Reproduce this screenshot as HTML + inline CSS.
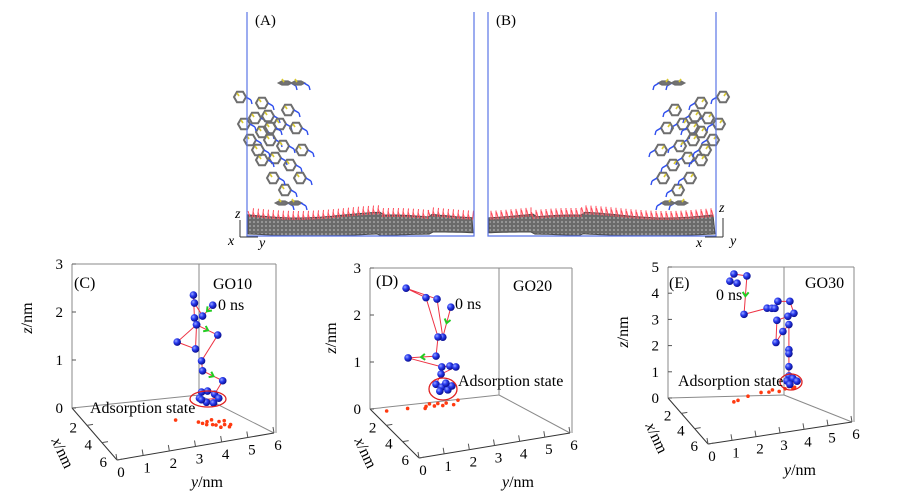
<!DOCTYPE html>
<html><head><meta charset="utf-8"><style>
html,body{margin:0;padding:0;background:#fff;}
svg{display:block;}
text{font-family:"Liberation Serif","DejaVu Serif",serif;}
</style></head><body>
<svg id="fig" width="900" height="497" viewBox="0 0 900 497">
<defs>
<radialGradient id="ball" cx="35%" cy="35%" r="65%">
<stop offset="0" stop-color="#9aa8ff"/><stop offset="0.45" stop-color="#2a3cf0"/><stop offset="1" stop-color="#0a0f90"/>
</radialGradient>
<pattern id="gtex" width="4" height="4" patternUnits="userSpaceOnUse">
<rect width="4" height="4" fill="#6a6a6a"/><circle cx="2" cy="2" r="1.1" fill="#9a9a9a"/>
</pattern>
</defs>
<g id="topgroup"></g>
<g id="panels"></g>
</svg>
<script>
// ---------- Panel data (nm) ----------
const cTrajY=[4.52,4.13,3.82,3.78,3.82,3.90,3.16,3.86,3.90,4.71,4.09,4.13,4.90,4.59,4.32,4.09,4.01,4.28,4.55,4.75,4.09];
const cTrajZ=[2.26,2.07,2.37,2.54,2.06,1.91,1.62,1.41,1.91,1.62,1.14,0.93,0.65,0.40,0.49,0.49,0.37,0.26,0.22,0.30,0.33];
const cFloorX=[3.0,3.6,3.8,3.7,4.0,4.2,3.9,4.3,4.5,4.4,4.1,3.6,4.6,3.9];
const cFloorY=[3.1,3.8,3.9,4.1,4.0,4.3,4.5,4.6,4.4,4.8,4.2,4.3,4.7,4.7];
const dTrajY=[2.24,1.92,1.69,0.46,1.25,1.73,1.65,0.54,1.88,2.20,2.44,1.85,1.65,1.88,2.12,2.28,1.80,2.04];
const dTrajZ=[2.49,1.88,2.71,3.05,2.78,1.90,1.50,1.56,1.25,1.24,1.20,1.10,0.90,0.82,0.74,0.81,0.74,0.89];
const dFloorX=[0.5,0.6,0.9,0.7,0.5,0.8,0.6,0.9,0.7,1.0,0.6];
const dFloorY=[0.5,1.3,1.9,2.0,2.2,2.3,2.5,2.6,2.8,3.0,3.3];
const eTrajY=[2.60,2.30,2.47,3.01,2.89,3.85,4.05,4.18,4.30,4.80,4.97,4.72,4.26,4.22,4.51,4.76,4.76,4.76,4.76,4.76,4.68,4.93,5.10,4.80];
const eTrajZ=[4.31,4.43,4.68,4.53,3.08,3.18,3.15,3.13,3.38,3.31,2.83,2.75,2.66,1.82,2.20,2.43,1.47,1.32,0.82,0.47,0.29,0.35,0.22,0.14];
const eFloorX=[1.6,1.5,1.2,1.0,1.1,0.9,1.2,1.0,0.8,1.1,1.0];
const eFloorY=[2.3,2.5,3.0,3.6,3.9,4.1,4.3,4.6,4.8,4.9,5.0];
const zTicksC=[0,1,2,3], zTicksD=[0,1,2,3], zTicksE=[0,1,2,3,4,5];
const xTicks=[2,4,6], yTicks=[0,1,2,3,4,5,6];

const NS='http://www.w3.org/2000/svg';
function mk(parent,tag,attrs,text){const e=document.createElementNS(NS,tag);for(const k in attrs)e.setAttribute(k,attrs[k]);if(text!==undefined)e.textContent=text;parent.appendChild(e);return e;}
function addTitle(g,x,y,rot,letter){
 const t=mk(g,'text',{x:x,y:y,'font-size':16,'text-anchor':'middle',transform:rot?`rotate(${rot} ${x} ${y})`:''});
 mk(t,'tspan',{'font-style':'italic'},letter);
 mk(t,'tspan',{},'/nm');
 return t;
}

const panels=[
 {id:'c',lab:'(C)',go:'GO10',O:[72,408],F:[117,460],Y6:[274,433],B:[199,395],top:264,zmax:3,zt:zTicksC,
  ty:cTrajY,tz:cTrajZ,fx:cFloorX,fy:cFloorY,px:3,arrows:[0,8,11],
  ell:[208,399,18,8],labPos:[74,288],goPos:[213,289],nsPos:[218,310],adPos:[90,413],
  zt_t:[32,318],xt_t:[58,455],yt_t:[207,487]},
 {id:'d',lab:'(D)',go:'GO20',O:[370,409],F:[419,458],Y6:[570,433],B:[499,395],top:268,zmax:3,zt:zTicksD,
  ty:dTrajY,tz:dTrajZ,fx:dFloorX,fy:dFloorY,px:3,arrows:[0,6],
  ell:[443,389,14,11],labPos:[376,286],goPos:[513,291],nsPos:[455,309],adPos:[458,386],
  zt_t:[336,338],xt_t:[361,455],yt_t:[518,487]},
 {id:'e',lab:'(E)',go:'GO30',O:[668,398],F:[708,444],Y6:[852,422],B:[784,395],top:267,zmax:5,zt:zTicksE,
  ty:eTrajY,tz:eTrajZ,fx:eFloorX,fy:eFloorY,px:1,arrows:[3,16],
  ell:[791,382,11,8],labPos:[669,288],goPos:[805,288],nsPos:[716,300],adPos:[678,386],
  zt_t:[628,332],xt_t:[652,440],yt_t:[800,475]}
];

const root=document.getElementById('panels');
panels.forEach(p=>{
 const g=mk(root,'g',{});
 
 
 const ex=[(p.F[0]-p.O[0])/6,(p.F[1]-p.O[1])/6], ey=[(p.Y6[0]-p.F[0])/6,(p.Y6[1]-p.F[1])/6];
 const zs=(p.O[1]-p.top)/p.zmax;
 const proj=(x,y,z)=>[p.O[0]+x*ex[0]+y*ey[0], p.O[1]+x*ex[1]+y*ey[1]-z*zs];
 const L=(a,b,c)=>mk(g,'line',{x1:a[0],y1:a[1],x2:b[0],y2:b[1],stroke:c||'#8a8a8a','stroke-width':1});
 const rx=p.Y6[0]+2;
 L([p.O[0],p.top],[p.O[0],p.O[1]]);L([p.O[0],p.top],[rx,p.top]);
 L([p.B[0],p.top],[p.B[0],p.B[1]]);L([rx,p.top],[rx,p.Y6[1]]);
 L(p.O,p.B);L(p.B,p.Y6);L(p.O,p.F,'#333');L(p.F,p.Y6,'#333');
 p.zt.forEach(v=>{const y=p.O[1]-v*zs;
  L([p.O[0],y],[p.O[0]+4,y],'#555');
  const t=mk(g,'text',{x:p.O[0]-9,y:y+5,'font-size':15,'text-anchor':'end'},String(v));
  });
 xTicks.forEach(v=>{const a=proj(v,0,0);
  L(a,[a[0]+6,a[1]-1],'#555');
  const t=mk(g,'text',{x:a[0]-10,y:a[1]+7,'font-size':15,'text-anchor':'end'},String(v));
  });
 yTicks.forEach(v=>{const a=proj(6,v,0);
  L(a,[a[0]-1,a[1]-6],'#555');
  const t=mk(g,'text',{x:a[0]+4,y:a[1]+17,'font-size':15,'text-anchor':'middle'},String(v));
  });
 let t=addTitle(g,p.zt_t[0],p.zt_t[1],-90,'z');
 
 t=addTitle(g,p.xt_t[0],p.xt_t[1],65,'x');
 
 t=addTitle(g,p.yt_t[0],p.yt_t[1],0,'y');
 
 p.fx.forEach((x,i)=>{const a=proj(x,p.fy[i],0);
  const c=mk(g,'circle',{cx:a[0],cy:a[1],r:1.8,fill:'#ff3a10'});
  });
 const pts=p.ty.map((y,i)=>proj(p.px,y,p.tz[i]));
 const pl=mk(g,'polyline',{points:pts.map(a=>a.join(',')).join(' '),fill:'none',stroke:'#ee3344','stroke-width':1});
 
 p.arrows.forEach(i=>{const a=pts[i],b=pts[i+1];const mx=(a[0]+b[0])/2,my=(a[1]+b[1])/2;
  const ang=Math.atan2(b[1]-a[1],b[0]-a[0])*180/Math.PI;
  const ar=mk(g,'path',{d:'M-3,-3 L1,0 L-3,3',fill:'none',stroke:'#22cc22','stroke-width':2,transform:`translate(${mx},${my}) rotate(${ang})`});
  });
 pts.forEach(a=>{const c=mk(g,'circle',{cx:a[0],cy:a[1],r:3.8,fill:'url(#ball)'});
  });
 const el=mk(g,'ellipse',{cx:p.ell[0],cy:p.ell[1],rx:p.ell[2],ry:p.ell[3],fill:'none',stroke:'#e02020','stroke-width':1.3});
 
 const T=(pos,s,n)=>{const e=mk(g,'text',{x:pos[0],y:pos[1],'font-size':16},s);};
 T(p.labPos,p.lab,'panel-label');T(p.goPos,p.go,'series-label');T(p.nsPos,'0 ns','start-time-label');T(p.adPos,'Adsorption state','adsorption-state-label');
});

// ---------- top panels (A),(B) ----------
const topG=document.getElementById('topgroup');
const rings=[[285,83,0.3],[298,83,0.3],[240,97,1],[262,103,1],[255,118,1],[268,116,1],[280,124,1],[262,132,1],[250,140,1],[270,140,1],[283,146,1],[296,128,1],[302,150,1],[275,158,1],[290,165,1],[300,178,1],[285,190,1],[273,178,1],[282,203,0.3],[295,203,0.3],[244,124,1],[258,150,1],[288,110,1],[270,128,1],[262,160,1]];
function drawSide(g,mirror){
 const X=x=>mirror?963-x:x;
 rings.forEach(r=>{let d='';for(let k=0;k<6;k++){const a=Math.PI/3*k;d+=(k?'L':'M')+(X(r[0])+6*Math.cos(a)).toFixed(1)+','+(r[1]+6*r[2]*Math.sin(a)).toFixed(1);}
  const h=mk(g,'path',{d:d+'Z',fill:r[2]<1?'#777':'none',stroke:'#6e6e6e','stroke-width':2});
  
  mk(g,'line',{x1:X(r[0]+6),y1:r[1],x2:X(r[0]+11),y2:r[1]+3,stroke:'#3050ee','stroke-width':1.6});
  mk(g,'line',{x1:X(r[0]+11),y1:r[1]+3,x2:X(r[0]+12),y2:r[1]+7,stroke:'#3050ee','stroke-width':1.4});
  mk(g,'line',{x1:X(r[0]-3),y1:r[1]-4,x2:X(r[0]-1),y2:r[1]-1,stroke:'#d8c830','stroke-width':1.6});});
 const x0=mirror?489:248,x1=mirror?715:473;
 const yTop=u=>215+3*Math.sin((u-250)/30)+(u>380&&u<430?3:0);
 const yBot=u=>234+2*Math.sin((u-250)/40)+(u>380&&u<430?2:0);
 let d='M'+x0+','+yBot(mirror?963-x0:x0).toFixed(1);
 for(let x=x0;x<=x1;x+=4){d+=' L'+x+','+yTop(mirror?963-x:x).toFixed(1);}
 for(let x=x1;x>=x0;x-=4){d+=' L'+x+','+yBot(mirror?963-x:x).toFixed(1);}
 d+=' Z';
 const s=mk(g,'path',{d:d,fill:'url(#gtex)',stroke:'#4a4a4a','stroke-width':1});
 
 for(let x=x0+2;x<x1;x+=2.5){const u=(mirror?963-x:x);const yt=yTop(u);
  mk(g,'line',{x1:x,y1:yt+2,x2:x+((Math.round(x*7))%5-2),y2:yt-4-((Math.round(x*13))%5),stroke:'#ff4a5a','stroke-width':1});}
}
const gA=mk(topG,'g',{});
const gB=mk(topG,'g',{});
drawSide(gA,false);drawSide(gB,true);
mk(gA,'path',{d:'M247,12 L247,236 L474,236 L474,12',fill:'none',stroke:'#5a74e6','stroke-width':1.2});
mk(gB,'path',{d:'M488,12 L488,236 L716,236 L716,12',fill:'none',stroke:'#5a74e6','stroke-width':1.2});
let tt=mk(gA,'text',{x:255,y:25,'font-size':15},'(A)');
tt=mk(gB,'text',{x:496,y:25,'font-size':15},'(B)');
mk(gA,'path',{d:'M240,237 L240,220 M240,237 L258,237',stroke:'#333',fill:'none'});
mk(gA,'text',{x:235,y:218,'font-size':14,'font-style':'italic'},'z');
mk(gA,'text',{x:228,y:245,'font-size':14,'font-style':'italic'},'x');
mk(gA,'text',{x:259,y:247,'font-size':14,'font-style':'italic'},'y');
mk(gB,'path',{d:'M723,237 L723,218 M723,237 L705,237',stroke:'#333',fill:'none'});
mk(gB,'text',{x:719,y:212,'font-size':14,'font-style':'italic'},'z');
mk(gB,'text',{x:730,y:245,'font-size':14,'font-style':'italic'},'y');
mk(gB,'text',{x:696,y:247,'font-size':14,'font-style':'italic'},'x');
</script>
</body></html>
